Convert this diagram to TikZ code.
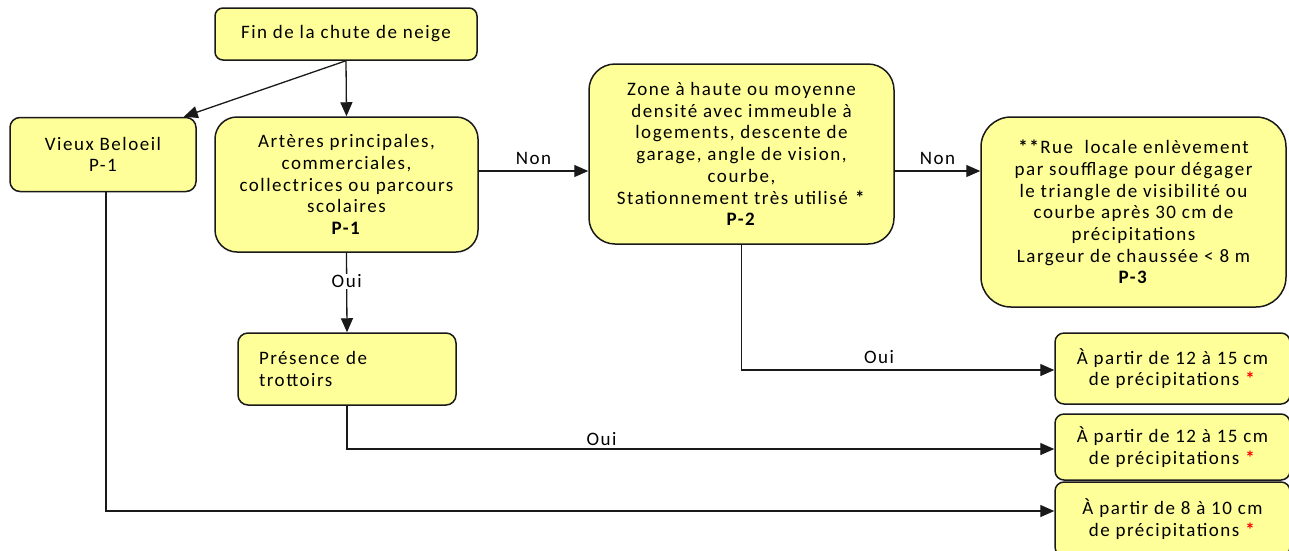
\documentclass[tikz,border=0pt]{standalone}
\usepackage{fontspec}
\setmainfont[LetterSpace=8]{Carlito}
\usetikzlibrary{arrows.meta}
\definecolor{boxyellow}{RGB}{255,255,153}
\definecolor{boxline}{RGB}{25,25,25}

\begin{document}
\begin{tikzpicture}[x=1pt,y=-1pt,
    box/.style={draw=boxline,fill=boxyellow,line width=1.5pt,align=center,inner sep=0pt,
      font=\fontsize{19}{21.7}\selectfont},
    flow/.style={draw=boxline,line width=1.3pt,-{Triangle[length=14pt,width=12pt]}},
    lbl/.style={font=\fontsize{19}{20}\selectfont,inner sep=1pt}]
\useasboundingbox (0,0) rectangle (1289,550);

% first column
\node[box,rounded corners=8pt,minimum width=262pt,minimum height=52pt] (fin) at (346,34) {Fin de la chute de neige};
\node[box,rounded corners=10pt,minimum width=186pt,minimum height=74pt] (vieux) at (103,154.5) {Vieux Beloeil\\P-1};
\node[box,rounded corners=22pt,minimum width=263pt,minimum height=135pt] (arteres) at (346.5,184.5)
  {Artères principales,\\commerciales,\\collectrices ou parcours\\scolaires\\\textbf{P-1}};
\node[box,rounded corners=10pt,minimum width=218pt,minimum height=72pt,text width=176pt,align=left] (trottoirs) at (347,369)
  {Présence de\\trottoirs};

% second and third column
\node[box,rounded corners=26pt,minimum width=305pt,minimum height=180pt] (zone) at (741.5,154)
  {Zone à haute ou moyenne\\densité avec immeuble à\\logements, descente de\\garage, angle de vision,\\courbe,\\Stationnement très utilisé \textbf{*}\\\textbf{P-2}};
\node[box,rounded corners=30pt,minimum width=305pt,minimum height=190pt] (rue) at (1133.5,212)
  {\textbf{**}Rue\ \ locale enlèvement\\par soufflage pour dégager\\le triangle de visibilité ou\\courbe après 30 cm de\\précipitations\\Largeur de chaussée < 8 m\\\textbf{P-3}};

% results
\node[box,rounded corners=9pt,minimum width=235pt,minimum height=71pt] (res1) at (1172.5,368.5)
  {À partir de 12 à 15 cm\\de précipitations {\color{red}\textbf{*}}};
\node[box,rounded corners=9pt,minimum width=235pt,minimum height=66pt] (res2) at (1172.5,447)
  {À partir de 12 à 15 cm\\de précipitations {\color{red}\textbf{*}}};
\node[box,rounded corners=9pt,minimum width=235pt,minimum height=74pt] (res3) at (1172.5,519)
  {À partir de 8 à 10 cm\\de précipitations {\color{red}\textbf{*}}};

% connectors
\draw[flow] (fin.south) -- ([xshift=-13pt]vieux.north east);
\draw[flow] (fin.south) -- (arteres.north);
\coordinate (non1) at ([yshift=13.5pt]arteres.east);
\draw[flow] (non1) -- node[lbl,above=5pt] (nonA) {Non} (non1 -| zone.west);
\coordinate (non2) at ([yshift=-17pt]zone.east);
\draw[flow] (non2) -- node[lbl,above=5pt] (nonB) {Non} (non2 -| rue.west);
\draw[flow] (arteres.south) -- node[lbl,fill=white,pos=0.36] (ouiA) {Oui} (trottoirs.north);
\draw[flow] (zone.south) |- node[lbl,above=5pt,pos=0.72] (ouiB) {Oui} ([yshift=-1.5pt]res1.west);
\draw[flow] (trottoirs.south) |- node[lbl,above=2pt,pos=0.68] (ouiC) {Oui} ([yshift=-2pt]res2.west);
\coordinate (vieuxbas) at ([xshift=3pt]vieux.south);
\draw[flow] (vieuxbas) |- ([yshift=8pt]res3.west);
\end{tikzpicture}
\end{document}
